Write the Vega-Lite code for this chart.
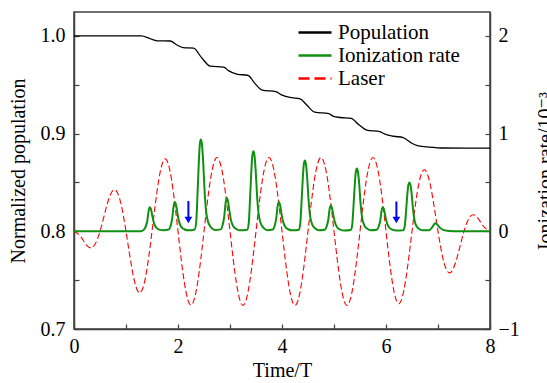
{
  "$schema": "https://vega.github.io/schema/vega-lite/v6.json",
  "width": 416,
  "height": 317,
  "autosize": "none",
  "padding": {"left": 74, "top": 12, "right": 57, "bottom": 54},
  "config": {
    "font": "Liberation Serif, DejaVu Serif, serif",
    "view": {"stroke": "#404040", "strokeWidth": 1.5},
    "axis": {
      "grid": false,
      "domainColor": "#404040",
      "domainWidth": 1.5,
      "tickColor": "#404040",
      "tickWidth": 1.2,
      "tickSize": -5,
      "labelFont": "Liberation Serif, DejaVu Serif, serif",
      "labelFontSize": 20,
      "labelColor": "black",
      "titleFont": "Liberation Serif, DejaVu Serif, serif",
      "titleFontSize": 20,
      "titleFontWeight": "normal",
      "titleColor": "black",
      "labelFlush": false,
      "labelOverlap": false
    }
  },
  "datasets": {
    "pop": [
      {"t": 0, "p": 1.0}, {"t": 1.3, "p": 1.0}, {"t": 1.45, "p": 0.9975}, {"t": 1.6, "p": 0.995},
      {"t": 1.85, "p": 0.9948}, {"t": 1.97, "p": 0.991}, {"t": 2.1, "p": 0.988}, {"t": 2.3, "p": 0.9875},
      {"t": 2.45, "p": 0.978}, {"t": 2.62, "p": 0.969}, {"t": 2.88, "p": 0.968}, {"t": 2.97, "p": 0.9645},
      {"t": 3.13, "p": 0.961}, {"t": 3.35, "p": 0.9595}, {"t": 3.47, "p": 0.952}, {"t": 3.62, "p": 0.9445},
      {"t": 3.88, "p": 0.943}, {"t": 3.98, "p": 0.94}, {"t": 4.15, "p": 0.937}, {"t": 4.35, "p": 0.9355},
      {"t": 4.48, "p": 0.929}, {"t": 4.63, "p": 0.922}, {"t": 4.9, "p": 0.9205}, {"t": 4.98, "p": 0.918},
      {"t": 5.12, "p": 0.9165}, {"t": 5.33, "p": 0.9155}, {"t": 5.48, "p": 0.909}, {"t": 5.63, "p": 0.9035},
      {"t": 5.88, "p": 0.902}, {"t": 5.98, "p": 0.8995}, {"t": 6.15, "p": 0.8973}, {"t": 6.33, "p": 0.896},
      {"t": 6.47, "p": 0.891}, {"t": 6.62, "p": 0.8874}, {"t": 6.85, "p": 0.8862}, {"t": 7.05, "p": 0.8853},
      {"t": 8, "p": 0.8852}
    ],
    "ion": [
      {"t": 0, "y": 0}, {"t": 1.25, "y": 0}, {"t": 1.3, "y": 0.004},
      {"t": 1.34, "y": 0.015}, {"t": 1.38, "y": 0.05}, {"t": 1.41, "y": 0.11}, {"t": 1.435, "y": 0.21}, {"t": 1.46, "y": 0.246}, {"t": 1.485, "y": 0.216}, {"t": 1.51, "y": 0.148}, {"t": 1.54, "y": 0.081}, {"t": 1.58, "y": 0.039}, {"t": 1.64, "y": 0.017}, {"t": 1.72, "y": 0.01},
      {"t": 1.82, "y": 0.018}, {"t": 1.86, "y": 0.06}, {"t": 1.89, "y": 0.135}, {"t": 1.915, "y": 0.255}, {"t": 1.94, "y": 0.3}, {"t": 1.965, "y": 0.264}, {"t": 1.99, "y": 0.18}, {"t": 2.02, "y": 0.1}, {"t": 2.06, "y": 0.048}, {"t": 2.12, "y": 0.021}, {"t": 2.2, "y": 0.01},
      {"t": 2.32, "y": 0.019}, {"t": 2.35, "y": 0.094}, {"t": 2.375, "y": 0.376}, {"t": 2.4, "y": 0.705}, {"t": 2.42, "y": 0.893}, {"t": 2.44, "y": 0.94}, {"t": 2.46, "y": 0.893}, {"t": 2.485, "y": 0.705}, {"t": 2.51, "y": 0.423}, {"t": 2.54, "y": 0.207}, {"t": 2.58, "y": 0.094}, {"t": 2.64, "y": 0.038}, {"t": 2.71, "y": 0.014},
      {"t": 2.82, "y": 0.02}, {"t": 2.86, "y": 0.068}, {"t": 2.89, "y": 0.153}, {"t": 2.915, "y": 0.289}, {"t": 2.94, "y": 0.34}, {"t": 2.965, "y": 0.299}, {"t": 2.99, "y": 0.204}, {"t": 3.02, "y": 0.112}, {"t": 3.06, "y": 0.054}, {"t": 3.12, "y": 0.024}, {"t": 3.2, "y": 0.01},
      {"t": 3.33, "y": 0.016}, {"t": 3.36, "y": 0.082}, {"t": 3.385, "y": 0.328}, {"t": 3.41, "y": 0.615}, {"t": 3.43, "y": 0.779}, {"t": 3.45, "y": 0.82}, {"t": 3.47, "y": 0.779}, {"t": 3.495, "y": 0.615}, {"t": 3.52, "y": 0.369}, {"t": 3.55, "y": 0.18}, {"t": 3.59, "y": 0.082}, {"t": 3.65, "y": 0.033}, {"t": 3.72, "y": 0.012},
      {"t": 3.82, "y": 0.018}, {"t": 3.86, "y": 0.06}, {"t": 3.89, "y": 0.135}, {"t": 3.915, "y": 0.255}, {"t": 3.94, "y": 0.3}, {"t": 3.965, "y": 0.264}, {"t": 3.99, "y": 0.18}, {"t": 4.02, "y": 0.1}, {"t": 4.06, "y": 0.048}, {"t": 4.12, "y": 0.021}, {"t": 4.2, "y": 0.01},
      {"t": 4.32, "y": 0.014}, {"t": 4.35, "y": 0.072}, {"t": 4.375, "y": 0.29}, {"t": 4.4, "y": 0.543}, {"t": 4.42, "y": 0.688}, {"t": 4.44, "y": 0.724}, {"t": 4.46, "y": 0.688}, {"t": 4.485, "y": 0.543}, {"t": 4.51, "y": 0.326}, {"t": 4.54, "y": 0.159}, {"t": 4.58, "y": 0.072}, {"t": 4.64, "y": 0.029}, {"t": 4.71, "y": 0.011},
      {"t": 4.82, "y": 0.016}, {"t": 4.86, "y": 0.053}, {"t": 4.89, "y": 0.118}, {"t": 4.915, "y": 0.224}, {"t": 4.94, "y": 0.263}, {"t": 4.965, "y": 0.231}, {"t": 4.99, "y": 0.158}, {"t": 5.02, "y": 0.087}, {"t": 5.06, "y": 0.042}, {"t": 5.12, "y": 0.018}, {"t": 5.2, "y": 0.008},
      {"t": 5.32, "y": 0.013}, {"t": 5.35, "y": 0.064}, {"t": 5.375, "y": 0.257}, {"t": 5.4, "y": 0.482}, {"t": 5.42, "y": 0.61}, {"t": 5.44, "y": 0.642}, {"t": 5.46, "y": 0.61}, {"t": 5.485, "y": 0.482}, {"t": 5.51, "y": 0.289}, {"t": 5.54, "y": 0.141}, {"t": 5.58, "y": 0.064}, {"t": 5.64, "y": 0.026}, {"t": 5.71, "y": 0.01},
      {"t": 5.82, "y": 0.015}, {"t": 5.86, "y": 0.049}, {"t": 5.89, "y": 0.11}, {"t": 5.915, "y": 0.21}, {"t": 5.94, "y": 0.246}, {"t": 5.965, "y": 0.216}, {"t": 5.99, "y": 0.148}, {"t": 6.02, "y": 0.081}, {"t": 6.06, "y": 0.039}, {"t": 6.12, "y": 0.017}, {"t": 6.2, "y": 0.008},
      {"t": 6.33, "y": 0.01}, {"t": 6.36, "y": 0.05}, {"t": 6.385, "y": 0.2}, {"t": 6.41, "y": 0.375}, {"t": 6.43, "y": 0.475}, {"t": 6.45, "y": 0.5}, {"t": 6.47, "y": 0.475}, {"t": 6.495, "y": 0.375}, {"t": 6.52, "y": 0.225}, {"t": 6.55, "y": 0.11}, {"t": 6.59, "y": 0.05}, {"t": 6.65, "y": 0.02}, {"t": 6.72, "y": 0.01},
      {"t": 6.83, "y": 0.012}, {"t": 6.87, "y": 0.03}, {"t": 6.9, "y": 0.05}, {"t": 6.925, "y": 0.072}, {"t": 6.95, "y": 0.082}, {"t": 6.975, "y": 0.075}, {"t": 7.0, "y": 0.06}, {"t": 7.04, "y": 0.035}, {"t": 7.1, "y": 0.015}, {"t": 7.18, "y": 0.005}, {"t": 7.3, "y": 0.001}, {"t": 7.4, "y": 0}, {"t": 8, "y": 0}
    ],
    "laser": [
      {"t": 0, "y": 0}, {"t": 0.125, "y": -0.052}, {"t": 0.25, "y": -0.147}, {"t": 0.375, "y": -0.155},
      {"t": 0.5, "y": 0}, {"t": 0.625, "y": 0.252}, {"t": 0.75, "y": 0.419}, {"t": 0.875, "y": 0.339},
      {"t": 1.0, "y": 0}, {"t": 1.125, "y": -0.413}, {"t": 1.25, "y": -0.628}, {"t": 1.375, "y": -0.471},
      {"t": 1.5, "y": 0}, {"t": 1.625, "y": 0.51}, {"t": 1.75, "y": 0.741}, {"t": 1.875, "y": 0.531},
      {"t": 2.0, "y": 0}, {"t": 2.125, "y": -0.534}, {"t": 2.25, "y": -0.755}, {"t": 2.375, "y": -0.534},
      {"t": 2.5, "y": 0}, {"t": 2.625, "y": 0.534}, {"t": 2.75, "y": 0.755}, {"t": 2.875, "y": 0.534},
      {"t": 3.0, "y": 0}, {"t": 3.125, "y": -0.534}, {"t": 3.25, "y": -0.758}, {"t": 3.375, "y": -0.534},
      {"t": 3.5, "y": 0}, {"t": 3.625, "y": 0.534}, {"t": 3.75, "y": 0.755}, {"t": 3.875, "y": 0.534},
      {"t": 4.0, "y": 0}, {"t": 4.125, "y": -0.534}, {"t": 4.25, "y": -0.758}, {"t": 4.375, "y": -0.534},
      {"t": 4.5, "y": 0}, {"t": 4.625, "y": 0.534}, {"t": 4.75, "y": 0.755}, {"t": 4.875, "y": 0.534},
      {"t": 5.0, "y": 0}, {"t": 5.125, "y": -0.534}, {"t": 5.25, "y": -0.758}, {"t": 5.375, "y": -0.534},
      {"t": 5.5, "y": 0}, {"t": 5.625, "y": 0.534}, {"t": 5.75, "y": 0.755}, {"t": 5.875, "y": 0.534},
      {"t": 6.0, "y": 0}, {"t": 6.125, "y": -0.531}, {"t": 6.25, "y": -0.741}, {"t": 6.375, "y": -0.51},
      {"t": 6.5, "y": 0}, {"t": 6.625, "y": 0.471}, {"t": 6.75, "y": 0.628}, {"t": 6.875, "y": 0.413},
      {"t": 7.0, "y": 0}, {"t": 7.125, "y": -0.339}, {"t": 7.25, "y": -0.419}, {"t": 7.375, "y": -0.252},
      {"t": 7.5, "y": 0}, {"t": 7.625, "y": 0.155}, {"t": 7.75, "y": 0.147}, {"t": 7.875, "y": 0.052},
      {"t": 8.0, "y": 0}
    ],
    "arrows": [
      {"t": 2.2, "y": 0.31, "y2": 0.13},
      {"t": 6.2, "y": 0.305, "y2": 0.13}
    ],
    "heads": [
      {"t": 2.2, "y": 0.116},
      {"t": 6.2, "y": 0.116}
    ]
  },
  "layer": [
    {
      "data": {"name": "pop"},
      "mark": {"type": "line", "strokeWidth": 1.3, "interpolate": "monotone"},
      "encoding": {
        "x": {
          "field": "t", "type": "quantitative",
          "scale": {"domain": [0, 8], "nice": false},
          "axis": {
            "values": [0, 1, 2, 3, 4, 5, 6, 7, 8],
            "labelExpr": "datum.value % 2 === 0 ? datum.label : ''",
            "title": "Time/T",
            "labelPadding": 12,
            "titlePadding": 4
          }
        },
        "y": {
          "field": "p", "type": "quantitative",
          "scale": {"domain": [0.7, 1.0245], "nice": false, "zero": false},
          "axis": {
            "orient": "left",
            "values": [0.7, 0.75, 0.8, 0.85, 0.9, 0.95, 1.0],
            "labelExpr": "abs(datum.value*10 - round(datum.value*10)) < 0.001 ? format(datum.value, '.1f') : ''",
            "title": "Normalized population",
            "labelPadding": 14,
            "titlePadding": 12
          }
        },
        "color": {
          "datum": "Population", "type": "nominal",
          "scale": {"domain": ["Population", "Ionization rate", "Laser"], "range": ["black", "#109010", "#ff0000"]},
          "legend": {
            "title": null,
            "orient": "none",
            "legendX": 242,
            "legendY": 10,
            "symbolType": "M-5.6,0H1",
            "symbolSize": 100,
            "symbolStrokeWidth": 2.4,
            "labelFont": "Liberation Serif, DejaVu Serif, serif",
            "labelFontSize": 21,
            "labelColor": "black",
            "labelOffset": 1,
            "rowPadding": 1,
            "encode": {
              "symbols": {"update": {"strokeDash": {"signal": "datum.label === 'Laser' ? [11, 5] : [40, 0]"}, "fill": {"value": "transparent"}}}
            }
          }
        }
      }
    },
    {
      "encoding": {
        "x": {"field": "t", "type": "quantitative"},
        "y": {
          "field": "y", "type": "quantitative",
          "scale": {"domain": [-1, 2.245], "nice": false, "zero": false},
          "axis": {
            "orient": "right",
            "values": [-1, -0.5, 0, 0.5, 1, 1.5, 2],
            "labelExpr": "datum.value % 1 === 0 ? format(datum.value, 'd') : ''",
            "title": "Ionization rate/10⁻³",
            "titleAngle": 270,
            "titleBaseline": "top",
            "labelPadding": 13,
            "titlePadding": 16
          }
        }
      },
      "layer": [
        {
          "data": {"name": "laser"},
          "mark": {"type": "line", "strokeWidth": 1.1, "strokeDash": [6, 3], "interpolate": "natural"},
          "encoding": {"color": {"datum": "Laser", "type": "nominal"}}
        },
        {
          "data": {"name": "ion"},
          "mark": {"type": "line", "strokeWidth": 2, "interpolate": "monotone"},
          "encoding": {"color": {"datum": "Ionization rate", "type": "nominal"}}
        },
        {
          "data": {"name": "arrows"},
          "mark": {"type": "rule", "color": "#0000ff", "strokeWidth": 2},
          "encoding": {"y2": {"field": "y2"}}
        },
        {
          "data": {"name": "heads"},
          "mark": {"type": "point", "shape": "triangle-down", "filled": true, "color": "#0000ff", "opacity": 1, "size": 60},
          "encoding": {}
        }
      ]
    }
  ],
  "resolve": {"scale": {"y": "independent"}}
}
